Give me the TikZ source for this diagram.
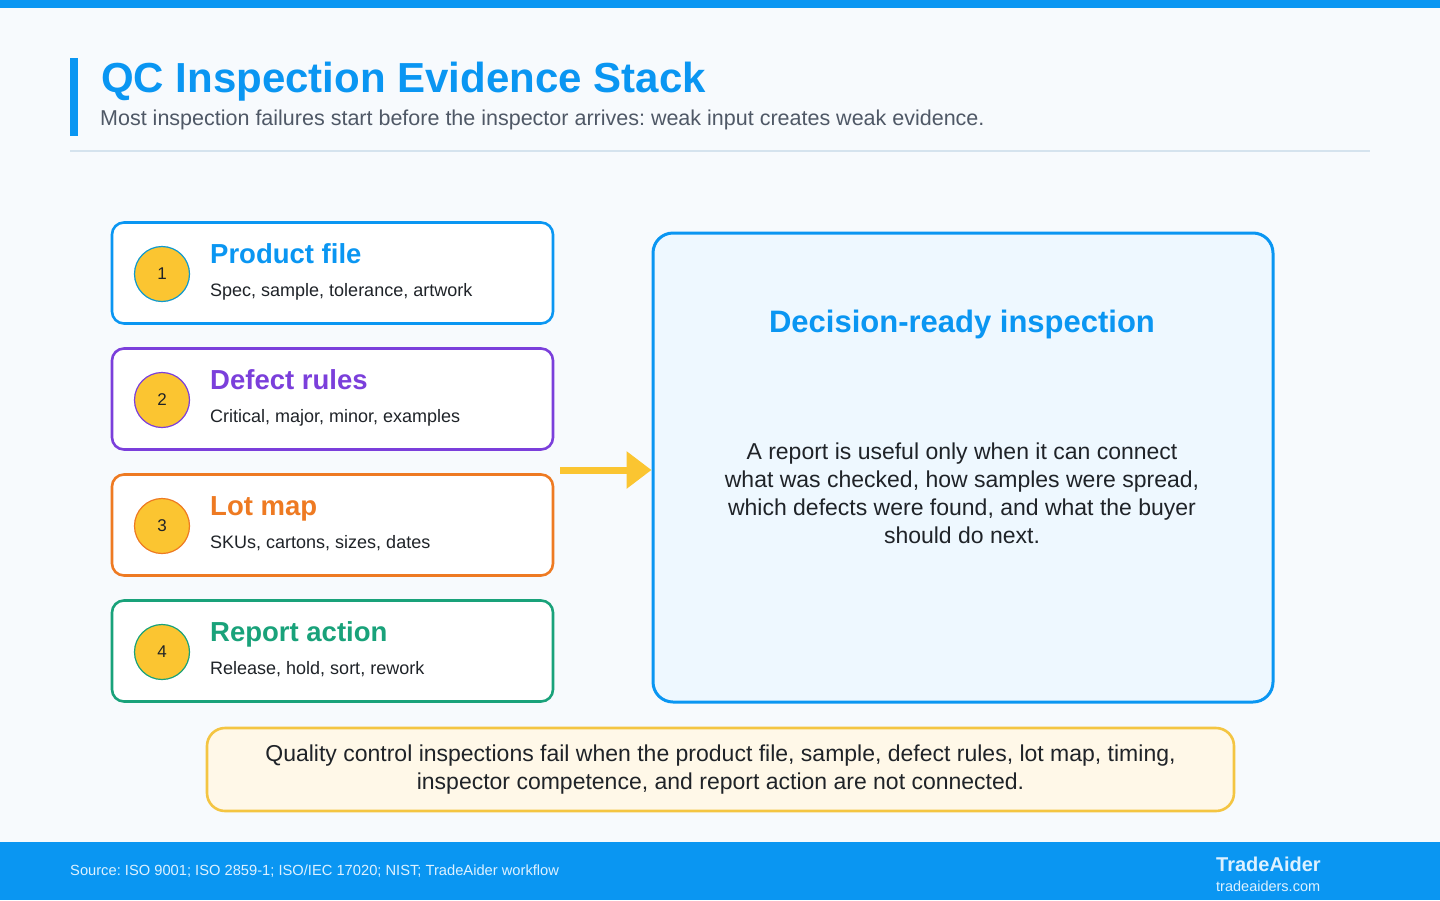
\documentclass[tikz,border=0pt]{standalone}
\usepackage{fontspec}
\setmainfont{Liberation Sans}
\usepackage{tikz}
\usetikzlibrary{arrows.meta,positioning}
\frenchspacing
\definecolor{brand}{HTML}{0A96F2}
\definecolor{page}{HTML}{F7FAFD}
\definecolor{ink}{HTML}{1F2328}
\definecolor{slate}{HTML}{4F5866}
\definecolor{rule}{HTML}{D5E3EE}
\definecolor{grape}{HTML}{7B3FDB}
\definecolor{amber}{HTML}{EE7A22}
\definecolor{jade}{HTML}{19A27A}
\definecolor{sun}{HTML}{FBC531}
\definecolor{sky}{HTML}{EEF8FF}
\definecolor{cream}{HTML}{FFF8E8}
\definecolor{gold}{HTML}{F4C542}
\definecolor{foam}{HTML}{DDF1FF}

\begin{document}
\begin{tikzpicture}[
  x=1pt,y=-1pt,
  card/.style={draw=#1,line width=2.6pt,fill=white,rounded corners=12pt,minimum width=441pt,minimum height=101pt,inner sep=0pt},
  badge/.style={circle,draw=#1,line width=1.2pt,fill=sun,minimum size=55pt,inner sep=0pt,text=ink,font=\fontsize{17}{20}\selectfont},
  ctitle/.style={anchor=base west,inner sep=0pt,text=#1,font=\fontsize{27.5}{32}\selectfont\bfseries},
  cdesc/.style={anchor=base west,inner sep=0pt,text=ink,font=\fontsize{18}{22}\selectfont},
  body/.style={align=center,text=ink,font=\fontsize{23}{28}\selectfont},
  flow/.style={-{Triangle[length=25pt,width=36pt]},draw=sun,line width=7pt}
]
\useasboundingbox (0,0) rectangle (1440,900);
\fill[page] (0,0) rectangle (1440,900);
\fill[brand] (0,0) rectangle (1440,8);
\fill[brand] (70,58) rectangle (78,136);
\node[anchor=base west,inner sep=0pt,text=brand,font=\fontsize{42}{48}\selectfont\bfseries] (title) at (101,92) {QC Inspection Evidence Stack};
\node[anchor=base west,inner sep=0pt,text=slate,font=\fontsize{21.5}{26}\selectfont] (sub) at (100,125) {Most inspection failures start before the inspector arrives: weak input creates weak evidence.};
\draw[rule,line width=1.5pt] (70,151) -- (1370,151);

\node[card=brand] (c1) at (332.5,273) {};
\node[badge=brand!70!jade] (n1) at (162,274) {1};
\node[ctitle=brand] (t1) at (210,263) {Product file};
\node[cdesc] (d1) at (210,296) {Spec, sample, tolerance, artwork};

\node[card=grape] (c2) at (332.5,399) {};
\node[badge=grape] (n2) at (162,400) {2};
\node[ctitle=grape] (t2) at (210,389) {Defect rules};
\node[cdesc] (d2) at (210,422) {Critical, major, minor, examples};

\node[card=amber] (c3) at (332.5,525) {};
\node[badge=amber] (n3) at (162,526) {3};
\node[ctitle=amber] (t3) at (210,515) {Lot map};
\node[cdesc] (d3) at (210,548) {SKUs, cartons, sizes, dates};

\node[card=jade] (c4) at (332.5,651) {};
\node[badge=jade] (n4) at (162,652) {4};
\node[ctitle=jade] (t4) at (210,641) {Report action};
\node[cdesc] (d4) at (210,674) {Release, hold, sort, rework};

\node[draw=brand,line width=3pt,fill=sky,rounded corners=20pt,minimum width=620pt,minimum height=469pt] (big) at (963,467.5) {};
\node[anchor=base,inner sep=0pt,text=brand,font=\fontsize{31}{36}\selectfont\bfseries] (bigt) at (962,332) {Decision-ready inspection};
\node[body] (bigb) at (962,493) {A report is useful only when it can connect\\what was checked, how samples were spread,\\which defects were found, and what the buyer\\should do next.};

\coordinate (stack) at (560,470);
\draw[flow] (stack) -- (big.west |- stack);

\node[draw=gold,line width=2.6pt,fill=cream,rounded corners=18pt,minimum width=1027pt,minimum height=83pt,body] (note) at (720.5,769.5) {Quality control inspections fail when the product file, sample, defect rules, lot map, timing,\\inspector competence, and report action are not connected.};

\fill[brand] (0,842) rectangle (1440,900);
\node[anchor=base west,inner sep=0pt,text=foam,font=\fontsize{14.7}{18}\selectfont] (src) at (70,875) {Source: ISO 9001; ISO 2859-1; ISO/IEC 17020; NIST; TradeAider workflow};
\node[anchor=base west,inner sep=0pt,text=foam,font=\fontsize{20}{24}\selectfont\bfseries] (brandname) at (1216,871) {TradeAider};
\node[anchor=base west,inner sep=0pt,text=foam,font=\fontsize{14.5}{18}\selectfont] (site) at (1216,891) {tradeaiders.com};
\end{tikzpicture}
\end{document}
